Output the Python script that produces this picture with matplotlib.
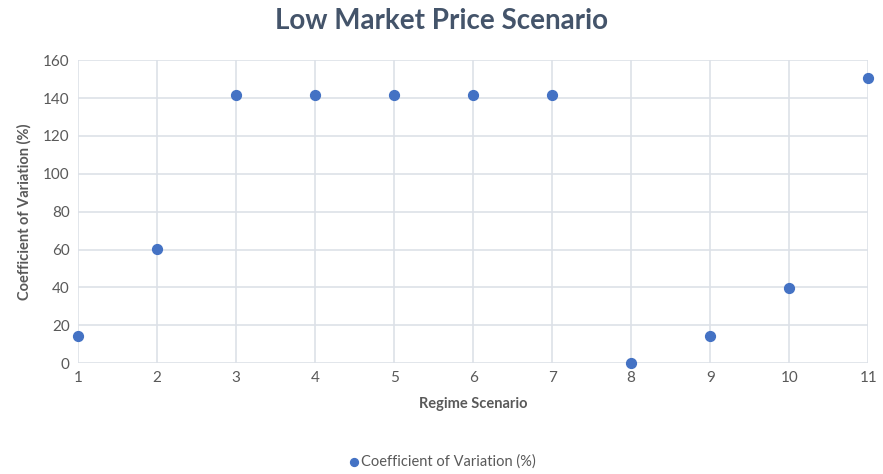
import matplotlib.pyplot as plt

plt.rcParams['font.family'] = ['Lato', 'DejaVu Sans']

# data
regime = [1, 2, 3, 4, 5, 6, 7, 8, 9, 10, 11]
cov_pct = [14.3, 60.1, 141.4, 141.4, 141.4, 141.4, 141.4, 0.0, 14.3, 39.6, 150.5]
y_ticks = [0, 20, 40, 60, 80, 100, 120, 140, 160]

fig = plt.figure(figsize=(8.83, 4.74), dpi=100)
ax = fig.add_axes([0.0883, 0.234, 0.895, 0.639])

ax.scatter(regime, cov_pct, s=50, color='#4472C4', zorder=3, clip_on=False,
           label='Coefficient of Variation (%)')

ax.set_xlim(1, 11)
ax.set_ylim(0, 160)
ax.set_xticks(regime)
ax.set_yticks(y_ticks)
ax.grid(True, color='#DDE1E8', linewidth=1.2, zorder=0)
for s in ax.spines.values():
    s.set_visible(False)
ax.tick_params(length=0, labelsize=11, colors='#595959', pad=6)

fig.text(0.5, 0.955, 'Low Market Price Scenario', fontsize=20, fontweight='bold',
         color='#44546A', ha='center', va='center')
ax.set_xlabel('Regime Scenario', fontsize=10.5, fontweight='bold',
              color='#595959', labelpad=8)
ax.set_ylabel('Coefficient of Variation (%)', fontsize=10.5, fontweight='bold',
              color='#595959', labelpad=8)

leg = fig.legend(loc='center', bbox_to_anchor=(0.5, 0.027), frameon=False,
                 fontsize=10.5, handletextpad=0.0, handlelength=1.0,
                 markerscale=0.8)
for t in leg.get_texts():
    t.set_color('#595959')

fig.savefig('out.png', dpi=100)
